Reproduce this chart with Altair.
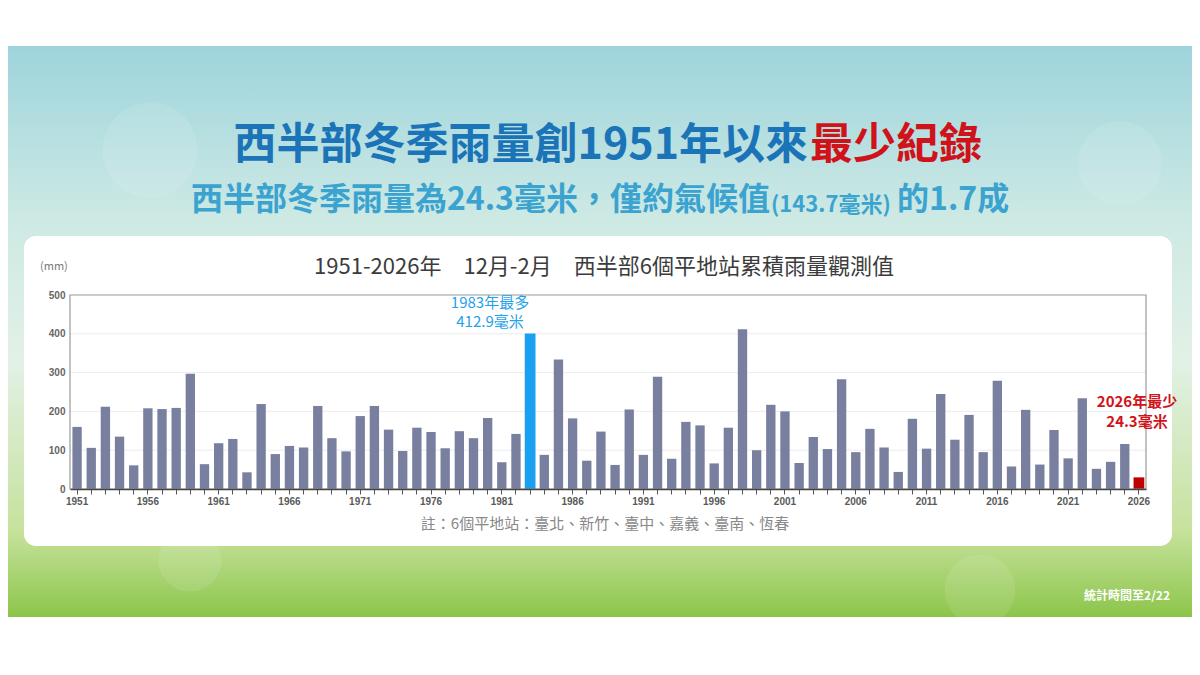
import altair as alt
import pandas as pd

# ---------------- data ----------------
years = list(range(1951, 2027))
rain_mm = [
    160, 106, 212, 135, 61, 208, 206, 209, 297, 64,      # 1951-1960
    118, 129, 43, 219, 90, 111, 107, 214, 131, 97,       # 1961-1970
    188, 214, 153, 98, 158, 147, 105, 149, 131, 183,     # 1971-1980
    69, 142, 401, 88, 334, 182, 73, 148, 62, 205,        # 1981-1990
    88, 289, 78, 173, 164, 66, 158, 412, 100, 217,       # 1991-2000
    200, 67, 134, 103, 283, 95, 155, 107, 44, 181,       # 2001-2010
    104, 245, 127, 191, 95, 279, 58, 204, 63, 152,       # 2011-2020
    79, 234, 52, 70, 116, 30,                            # 2021-2026
]
kinds = ["normal"] * len(years)
kinds[years.index(1983)] = "max"
kinds[years.index(2026)] = "min"

y_ticks = [0, 100, 200, 300, 400, 500]
grid_vals = [100, 200, 300, 400]

title_blue = "西半部冬季雨量創1951年以來"
title_red = "最少紀錄"
sub_1 = "西半部冬季雨量為24.3毫米，僅約氣候值"
sub_2 = "(143.7毫米)"
sub_3 = "的1.7成"
chart_title = "1951-2026年　12月-2月　西半部6個平地站累積雨量觀測值"
unit_label = "(mm)"
max_label = ["1983年最多", "412.9毫米"]
min_label = ["2026年最少", "24.3毫米"]
note = "註：6個平地站：臺北、新竹、臺中、嘉義、臺南、恆春"
stat_time = "統計時間至2/22"

df = pd.DataFrame({"year": years, "value": rain_mm, "kind": kinds})
grid_df = pd.DataFrame({"value": grid_vals})

# ---------------- geometry (plot area) ----------------
W, H = 1076, 194
PX0, PY0 = 70, 295  # page position of plot origin


def px(x):
    return x - PX0


def py(y):
    return y - PY0


CJK = "Noto Sans CJK TC"
one = alt.Data(values=[{"a": 1}])

x_enc = alt.X(
    "year:O",
    title=None,
    scale=alt.Scale(paddingInner=0.34, paddingOuter=0.17),
    axis=alt.Axis(
        labelExpr="(datum.value - 1951) % 5 == 0 ? datum.label : ''",
        labelAngle=0,
        labelOverlap=False,
        labelFont="Liberation Sans",
        labelFontSize=10,
        labelFontWeight="bold",
        labelColor="#5a5a5a",
        labelPadding=2,
        tickSize=5,
        tickColor="#555555",
        domainColor="#444444",
        domainWidth=1.5,
        grid=False,
        zindex=2,
    ),
)
y_enc = alt.Y(
    "value:Q",
    title=None,
    scale=alt.Scale(domain=[0, 500], nice=False),
    axis=alt.Axis(
        values=y_ticks,
        labelFont="Liberation Sans",
        labelFontSize=10,
        labelFontWeight="bold",
        labelColor="#666666",
        labelPadding=5,
        tickSize=0,
        domain=False,
        grid=False,
        zindex=2,
    ),
)

# ---------------- background ----------------
grad = alt.LinearGradient(
    gradient="linear",
    x1=0, x2=0, y1=0, y2=1,
    stops=[
        alt.GradientStop(offset=0.0, color="#9dd4dc"),
        alt.GradientStop(offset=0.30, color="#cde9e4"),
        alt.GradientStop(offset=0.55, color="#e2f1e6"),
        alt.GradientStop(offset=0.85, color="#c6e29c"),
        alt.GradientStop(offset=1.0, color="#8cc54a"),
    ],
)
bg = alt.Chart(one).mark_rect(fill=grad).encode(
    x=alt.value(px(0)), x2=alt.value(px(1200)),
    y=alt.value(py(46)), y2=alt.value(py(617)),
)

bokeh_x = [1120, 150, 190, 980]
bokeh_y = [163, 150, 560, 590]
bokeh_s = [6940, 9000, 4000, 5000]
bokeh_df = pd.DataFrame({"bx": [px(v) for v in bokeh_x], "by": [py(v) for v in bokeh_y], "bs": bokeh_s})
bokeh = alt.Chart(bokeh_df).mark_circle(color="white", opacity=0.1).encode(
    x=alt.X("bx:Q", scale=None), y=alt.Y("by:Q", scale=None), size=alt.Size("bs:Q", scale=None, legend=None)
)

card = alt.Chart(one).mark_rect(fill="white", cornerRadius=12).encode(
    x=alt.value(px(24)), x2=alt.value(px(1172)),
    y=alt.value(py(236)), y2=alt.value(py(546)),
)

grid = alt.Chart(grid_df).mark_rule(color="#ececec", strokeWidth=1).encode(
    y=y_enc, x=alt.value(0), x2=alt.value(W)
)

bars = alt.Chart(df).transform_filter("datum.kind == 'normal'").mark_bar(color="#79809f").encode(
    x=x_enc, y=y_enc
)
hi_bars = alt.Chart(df).transform_filter("datum.kind != 'normal'").mark_bar(
    width=alt.RelativeBandSize(1.15)
).encode(
    x=x_enc, y=y_enc,
    color=alt.Color("kind:N", scale=alt.Scale(domain=["max", "min"], range=["#1aa0f0", "#c00000"]), legend=None),
)

frame = alt.Chart(one).mark_rect(fillOpacity=0, stroke="#9a9a9a", strokeWidth=1.2).encode(
    x=alt.value(0), x2=alt.value(W), y=alt.value(0), y2=alt.value(H)
)


def txt(text, x, y, size, color, align="center", weight="normal", font=CJK, baseline="middle"):
    return alt.Chart(one).mark_text(
        text=text, align=align, baseline=baseline, fontSize=size, color=color,
        fontWeight=weight, font=font,
    ).encode(x=alt.value(px(x)), y=alt.value(py(y)))


texts = [
    txt(title_blue, 808, 146, 43, "#1c74b8", align="right", weight="bold"),
    txt(title_red, 810, 146, 43, "#d0121b", align="left", weight="bold"),
    txt(sub_1, 770, 200, 32, "#3ba3cf", align="right", weight="bold"),
    txt(sub_2, 771, 205, 22, "#3ba3cf", align="left", weight="bold"),
    txt(sub_3, 897, 200, 32, "#3ba3cf", align="left", weight="bold"),
    txt(chart_title, 604, 267, 22, "#3c3c3c"),
    txt(unit_label, 40, 267, 11, "#777777", align="left"),
    txt(max_label[0], 490, 303, 15, "#1fa2ec"),
    txt(max_label[1], 490, 322, 15, "#1fa2ec"),
    txt(min_label[0], 1137, 402, 15, "#d0121b", weight="bold"),
    txt(min_label[1], 1137, 422, 15, "#d0121b", weight="bold"),
    txt(note, 605, 524, 15, "#888888"),
    txt(stat_time, 1170, 596, 12, "white", align="right", weight="bold"),
]

chart = alt.layer(bg, bokeh, card, grid, bars, hi_bars, frame, *texts).properties(
    width=W,
    height=H,
    autosize=alt.AutoSizeParams(type="none"),
    padding={"left": PX0 - 8, "top": PY0 - 8, "right": 1192 - (PX0 + W), "bottom": 150},
    background="white",
).configure_view(stroke=None)

chart.save("out.html", embed_options={"renderer": "svg", "actions": False})
